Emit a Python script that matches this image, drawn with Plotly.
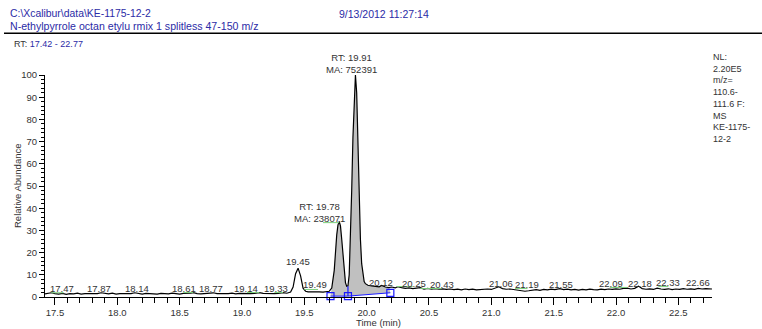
import plotly.graph_objects as go
import numpy as np

# ---------------- data ----------------
time_min = [17.42, 17.45, 17.47, 17.50, 17.53, 17.56, 17.59, 17.62, 17.65, 17.68, 17.71, 17.74, 17.77, 17.80,
            17.84, 17.87, 17.90, 17.93, 17.96, 17.99, 18.02, 18.05, 18.08, 18.11, 18.14, 18.17, 18.20, 18.23,
            18.26, 18.29, 18.32, 18.35, 18.38, 18.41, 18.44, 18.47, 18.50, 18.53, 18.56, 18.59, 18.61, 18.64,
            18.67, 18.70, 18.73, 18.77, 18.80, 18.83, 18.86, 18.89, 18.92, 18.95, 18.98, 19.01, 19.04, 19.07,
            19.10, 19.14, 19.17, 19.20, 19.23, 19.26, 19.29, 19.33, 19.36, 19.39, 19.41, 19.43, 19.45, 19.47,
            19.49, 19.51, 19.53, 19.56, 19.59, 19.62, 19.65, 19.68, 19.70, 19.72, 19.74, 19.76, 19.77, 19.78,
            19.79, 19.80, 19.81, 19.82, 19.83, 19.84, 19.85, 19.86, 19.87, 19.88, 19.89, 19.90, 19.91, 19.92,
            19.93, 19.94, 19.95, 19.96, 19.97, 19.98, 19.99, 20.01, 20.04, 20.07, 20.10, 20.12, 20.15, 20.18,
            20.20, 20.23, 20.25, 20.28, 20.31, 20.34, 20.37, 20.40, 20.43, 20.46, 20.49, 20.52, 20.55, 20.58,
            20.61, 20.64, 20.67, 20.70, 20.73, 20.76, 20.79, 20.82, 20.85, 20.88, 20.91, 20.94, 20.97, 21.00,
            21.03, 21.06, 21.09, 21.12, 21.15, 21.18, 21.21, 21.24, 21.27, 21.30, 21.33, 21.36, 21.39, 21.42,
            21.45, 21.48, 21.51, 21.55, 21.58, 21.61, 21.64, 21.67, 21.70, 21.73, 21.76, 21.79, 21.82, 21.85,
            21.88, 21.91, 21.94, 21.97, 22.00, 22.03, 22.06, 22.09, 22.12, 22.15, 22.18, 22.21, 22.24, 22.27,
            22.30, 22.33, 22.36, 22.39, 22.42, 22.45, 22.48, 22.51, 22.54, 22.57, 22.60, 22.63, 22.66, 22.69,
            22.72, 22.75, 22.77]
rel_abundance = [1.4, 1.6, 1.9, 1.5, 1.3, 1.6, 1.2, 1.5, 1.4, 1.7, 1.3, 1.5, 1.4, 1.6,
                 1.5, 1.9, 1.5, 1.4, 1.7, 1.3, 1.5, 1.4, 1.6, 1.5, 1.9, 1.5, 1.3, 1.6,
                 1.4, 1.5, 1.3, 1.6, 1.5, 1.4, 1.7, 1.5, 1.3, 1.6, 1.5, 1.7, 2.0, 1.5,
                 1.4, 1.6, 1.5, 1.9, 1.5, 1.4, 1.6, 1.5, 1.7, 1.4, 1.6, 1.5, 1.7, 1.5,
                 1.6, 2.0, 1.6, 1.5, 1.7, 1.5, 1.6, 2.0, 1.7, 2.2, 4.5, 10.5, 13.0, 9.5,
                 4.0, 2.6, 2.3, 2.4, 2.2, 2.3, 2.2, 2.5, 2.6, 4.0, 12.0, 28.0, 32.5, 34.0,
                 32.0, 26.0, 18.0, 11.0, 6.5, 4.8, 5.0, 10.0, 25.0, 48.0, 72.0, 92.0, 100.0, 92.0,
                 70.0, 45.0, 26.0, 15.0, 9.5, 7.0, 6.0, 5.3, 5.0, 4.7, 4.6, 5.2, 4.5, 4.2,
                 4.5, 4.1, 4.6, 4.2, 3.9, 4.1, 3.8, 4.0, 4.2, 3.6, 3.9, 3.5, 3.8, 3.5,
                 3.7, 3.4, 3.6, 3.3, 3.5, 3.2, 3.6, 3.3, 3.5, 3.2, 3.4, 3.3, 3.6, 3.4,
                 4.0, 4.6, 3.8, 3.5, 3.6, 3.4, 3.3, 2.9, 2.6, 2.8, 3.1, 3.3, 3.0, 3.4,
                 3.2, 3.5, 3.3, 3.8, 3.3, 3.5, 3.2, 3.4, 3.1, 3.4, 3.2, 3.5, 3.3, 3.2,
                 3.5, 3.3, 3.6, 3.4, 3.7, 3.5, 3.9, 4.0, 3.6, 3.9, 4.9, 3.8, 3.5, 3.7,
                 3.4, 4.0, 3.6, 3.4, 3.7, 3.3, 3.6, 3.4, 3.8, 3.5, 3.7, 3.4, 3.9, 3.6,
                 3.8, 3.5, 3.6]

# integration baseline (blue squares)
baseline_t = [19.71, 19.85, 20.19]
baseline_v = [0.4, 0.4, 1.9]
valley_t = 19.85
valley_v = 4.8

# peak labels
label_text = ["17.47", "17.87", "18.14", "18.61", "18.77", "19.14", "19.33", "19.45", "19.49",
              "20.12", "20.25", "20.43", "21.06", "21.19", "21.55", "22.09", "22.18", "22.33", "22.66"]
label_x = [17.56, 17.85, 18.16, 18.535, 18.75, 19.03, 19.27, 19.45, 19.585,
           20.115, 20.38, 20.605, 21.075, 21.29, 21.56, 21.96, 22.19, 22.42, 22.66]
label_y = [3.7, 3.7, 3.7, 3.7, 3.7, 3.7, 3.7, 16.0, 5.5,
           6.6, 6.2, 5.5, 6.0, 5.5, 5.6, 6.2, 6.2, 6.4, 6.4]

# main peak annotations
peak_rt = [19.91, 19.78]
peak_ma = [752391, 238071]
peak_lbl_x = [19.875, 19.618]
peak_lbl_y = [105.0, 38.0]

# green marker segments under labels
seg_start = [17.47, 18.53, 19.04, 19.26, 19.50, 19.65, 20.24, 20.43, 21.19, 21.95, 22.34]
seg_end = [17.57, 18.61, 19.14, 19.33, 19.61, 19.78, 20.37, 20.60, 21.29, 22.09, 22.42]
seg_level = [1.9, 2.0, 2.0, 2.0, 3.4, 33.5, 4.7, 3.8, 3.8, 4.3, 4.7]

X_RANGE = [17.42, 22.77]
Y_RANGE = [0, 100]

# ---------------- figure ----------------
W, H = 762, 329
L, R, T, B = 45, 50, 75, 32
pw, ph = W - L - R, H - T - B


def px(x):
    return (x - L) / pw


def py(y):
    return (H - B - y) / ph


def dx(t):
    return (t - X_RANGE[0]) / (X_RANGE[1] - X_RANGE[0])


def dy(v):
    return (v - Y_RANGE[0]) / (Y_RANGE[1] - Y_RANGE[0])


BLUE_TXT = "#2b2ba6"
TXT = "#333333"
FONT = "Liberation Sans, Arial, sans-serif"

fig = go.Figure()

# shaded integrated area
t_arr = np.array(time_min)
v_arr = np.array(rel_abundance)
m = (t_arr >= baseline_t[0]) & (t_arr <= baseline_t[-1])
poly_x = list(t_arr[m]) + baseline_t[::-1]
poly_y = list(v_arr[m]) + baseline_v[::-1]
fig.add_trace(go.Scatter(x=poly_x, y=poly_y, fill="toself", fillcolor="#c0c0c0",
                         mode="lines", line=dict(width=0), hoverinfo="skip", showlegend=False))

# chromatogram
fig.add_trace(go.Scatter(x=time_min, y=rel_abundance, mode="lines",
                         line=dict(color="black", width=1.2), cliponaxis=False, showlegend=False))

# green segments
for s, e, lv in zip(seg_start, seg_end, seg_level):
    fig.add_trace(go.Scatter(x=[s, e], y=[lv, lv], mode="lines",
                             line=dict(color="#7ccf7c", width=1), showlegend=False, hoverinfo="skip"))

# blue baseline
fig.add_trace(go.Scatter(x=baseline_t, y=baseline_v, mode="lines+markers",
                         line=dict(color="#1a1aff", width=1),
                         marker=dict(symbol="square-open", size=7, color="#1a1aff", line=dict(width=1.2)),
                         cliponaxis=False, showlegend=False))
fig.add_trace(go.Scatter(x=[valley_t, valley_t], y=[baseline_v[1], valley_v], mode="lines",
                         line=dict(color="#1a1aff", width=1.2), showlegend=False))

annotations = []
for txt, x, y in zip(label_text, label_x, label_y):
    annotations.append(dict(x=x, y=y, xref="x", yref="y", text=txt, showarrow=False,
                            font=dict(size=9.5, color=TXT, family=FONT), yanchor="middle"))
for rt, ma, x, y in zip(peak_rt, peak_ma, peak_lbl_x, peak_lbl_y):
    annotations.append(dict(x=dx(x), y=dy(y), xref="paper", yref="paper", text=f"RT: {rt:.2f}<br>MA: {ma}",
                            showarrow=False, align="center",
                            font=dict(size=9.5, color=TXT, family=FONT), yanchor="middle"))

# header texts and axis titles
annotations += [
    dict(x=px(8), y=py(14), xref="paper", yref="paper", xanchor="left", yanchor="middle", showarrow=False,
         text="C:\\Xcalibur\\data\\KE-1175-12-2", font=dict(size=10.4, color=BLUE_TXT, family=FONT)),
    dict(x=px(8), y=py(26.5), xref="paper", yref="paper", xanchor="left", yanchor="middle", showarrow=False,
         text="N-ethylpyrrole octan etylu rmix 1 splitless 47-150 m/z",
         font=dict(size=10.6, color=BLUE_TXT, family=FONT)),
    dict(x=px(337), y=py(14), xref="paper", yref="paper", xanchor="left", yanchor="middle", showarrow=False,
         text="9/13/2012 11:27:14", font=dict(size=10.5, color=BLUE_TXT, family=FONT)),
    dict(x=px(12), y=py(44), xref="paper", yref="paper", xanchor="left", yanchor="middle", showarrow=False,
         text=f"RT: <span style='color:{BLUE_TXT}'>17.42 - 22.77</span>",
         font=dict(size=9, color=TXT, family=FONT)),
    dict(x=px(711), y=py(50), xref="paper", yref="paper", xanchor="left", yanchor="top", showarrow=False,
         align="left", text="NL:<br>2.20E5<br>m/z=<br>110.6-<br>111.6 F:<br>MS<br>KE-1175-<br>12-2",
         font=dict(size=9, color=TXT, family=FONT)),
    dict(x=px(378), y=py(322.5), xref="paper", yref="paper", xanchor="center", yanchor="middle",
         showarrow=False, text="Time (min)", font=dict(size=9.5, color=TXT, family=FONT)),
    dict(x=px(17), y=py(186), xref="paper", yref="paper", xanchor="center", yanchor="middle",
         showarrow=False, text="Relative Abundance", textangle=-90,
         font=dict(size=9.5, color=TXT, family=FONT)),
]

fig.update_layout(
    width=W, height=H,
    margin=dict(l=L, r=R, t=T, b=B, pad=0, autoexpand=False),
    paper_bgcolor="white", plot_bgcolor="white",
    font=dict(family=FONT, size=9.5, color=TXT),
    showlegend=False,
    hovermode=False,
    annotations=annotations,
    shapes=[dict(type="line", xref="paper", yref="paper", x0=px(4), x1=px(762), y0=py(33.3), y1=py(33.3),
                 line=dict(color="black", width=1.5))],
    xaxis=dict(range=X_RANGE, showline=True, linecolor="black", linewidth=1, automargin=False,
               ticks="outside", tickcolor="black", ticklen=7, tick0=17.5, dtick=0.5, tickformat=".1f",
               minor=dict(ticks="outside", ticklen=4.5, dtick=0.1, tick0=17.5, tickcolor="black"),
               showgrid=False, zeroline=False,
               tickfont=dict(size=9.5, color=TXT)),
    yaxis=dict(range=Y_RANGE, showline=True, linecolor="black", linewidth=1, automargin=False,
               ticks="outside", tickcolor="black", ticklen=5, dtick=10,
               minor=dict(ticks="outside", ticklen=3, dtick=2, tickcolor="black"),
               showgrid=False, zeroline=False,
               tickfont=dict(size=9.5, color=TXT)),
)

fig.write_html("out.html", config={"displayModeBar": False},
               post_script="document.body.style.margin='0';document.body.style.padding='0';")
